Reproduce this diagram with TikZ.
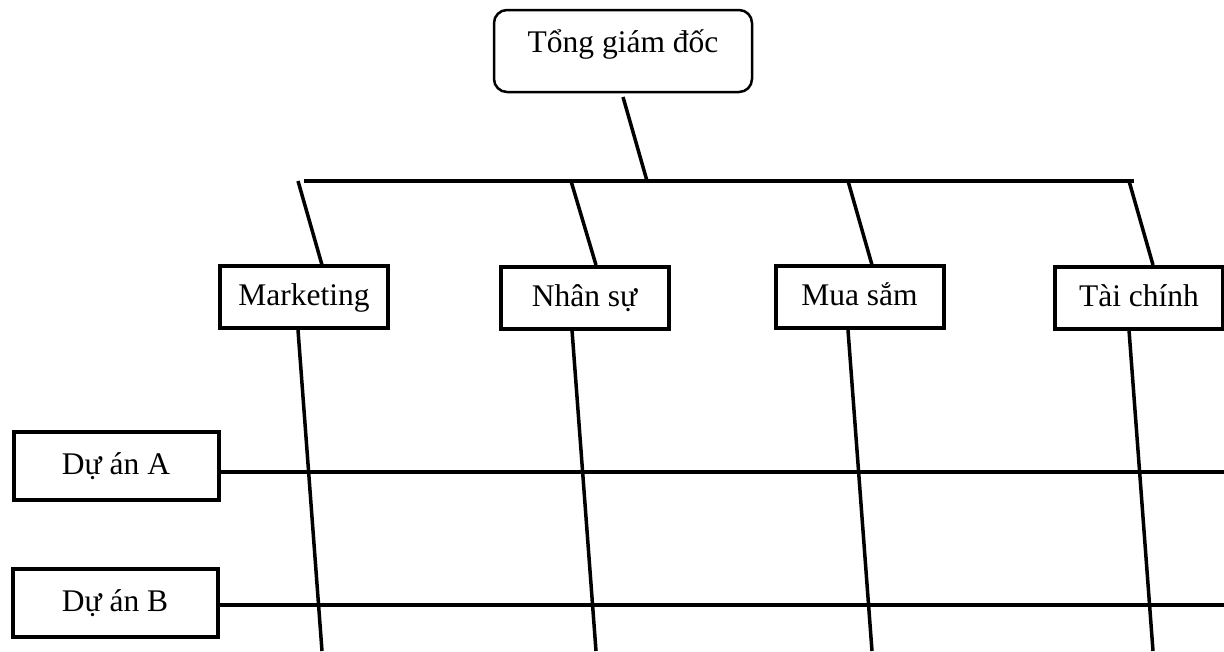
\documentclass[tikz,border=0pt]{standalone}
\usepackage{fontspec}
\setmainfont{Liberation Serif}
\begin{document}
\begin{tikzpicture}[x=1pt,y=-1pt,
  lbl/.style={draw,line width=4pt,inner sep=0pt,font=\fontsize{31.5}{38}\selectfont,text height=23pt,text depth=6pt},
  dept/.style={lbl,minimum width=168pt,minimum height=62pt},
  proj/.style={lbl,minimum width=205pt,minimum height=68pt},
  conn/.style={line width=3.5pt}]
\useasboundingbox[fill=white] (0,0) rectangle (1224,651);
% top box
\node[draw,line width=2.5pt,rounded corners=13pt,minimum width=258pt,minimum height=82pt,inner sep=0pt,
  font=\fontsize{31.5}{38}\selectfont,text height=23pt,text depth=21pt] (gd) at (623,51) {Tổng giám đốc};
% departments
\node[dept] (mk) at (304,297) {Marketing};
\node[dept] (ns) at (584.5,297.5) {Nhân sự};
\node[dept] (ms) at (859.5,297) {Mua sắm};
\node[dept] (tc) at (1139,297.5) {Tài chính};
% projects
\node[proj] (pa) at (116,465.5) {Dự án A};
\node[proj] (pb) at (115,602.5) {Dự án B};
% coordinates
\coordinate (gdl) at (623,97);
\coordinate (bl) at (304,181);
\coordinate (br) at (1134,181);
\coordinate (bj) at (647,181);
\coordinate (mkt) at (298,181);
\coordinate (nst) at (571,181);
\coordinate (mst) at (848,181);
\coordinate (tct) at (1129,181);
\coordinate (mkn) at (322,265);
\coordinate (nsn) at (596,265);
\coordinate (msn) at (872,265);
\coordinate (tcn) at (1153,265);
\coordinate (mks) at (298,330);
\coordinate (nss) at (572,330);
\coordinate (mss) at (848,330);
\coordinate (tcs) at (1129,330);
\coordinate (mkb) at (322,651);
\coordinate (nsb) at (596,651);
\coordinate (msb) at (872,651);
\coordinate (tcb) at (1153,651);
\coordinate (par) at (1224,472);
\coordinate (pbr) at (1224,605);
% bus
\draw[conn] (bl) -- (br);
\draw[conn] (gdl) -- (bj);
% branches to departments
\draw[conn] (mkt) -- (mkn);
\draw[conn] (nst) -- (nsn);
\draw[conn] (mst) -- (msn);
\draw[conn] (tct) -- (tcn);
% verticals below departments
\draw[conn] (mks) -- (mkb);
\draw[conn] (nss) -- (nsb);
\draw[conn] (mss) -- (msb);
\draw[conn] (tcs) -- (tcb);
% project lines
\draw[conn] (pa.east |- par) -- (par);
\draw[conn] (pb.east |- pbr) -- (pbr);
\end{tikzpicture}
\end{document}
